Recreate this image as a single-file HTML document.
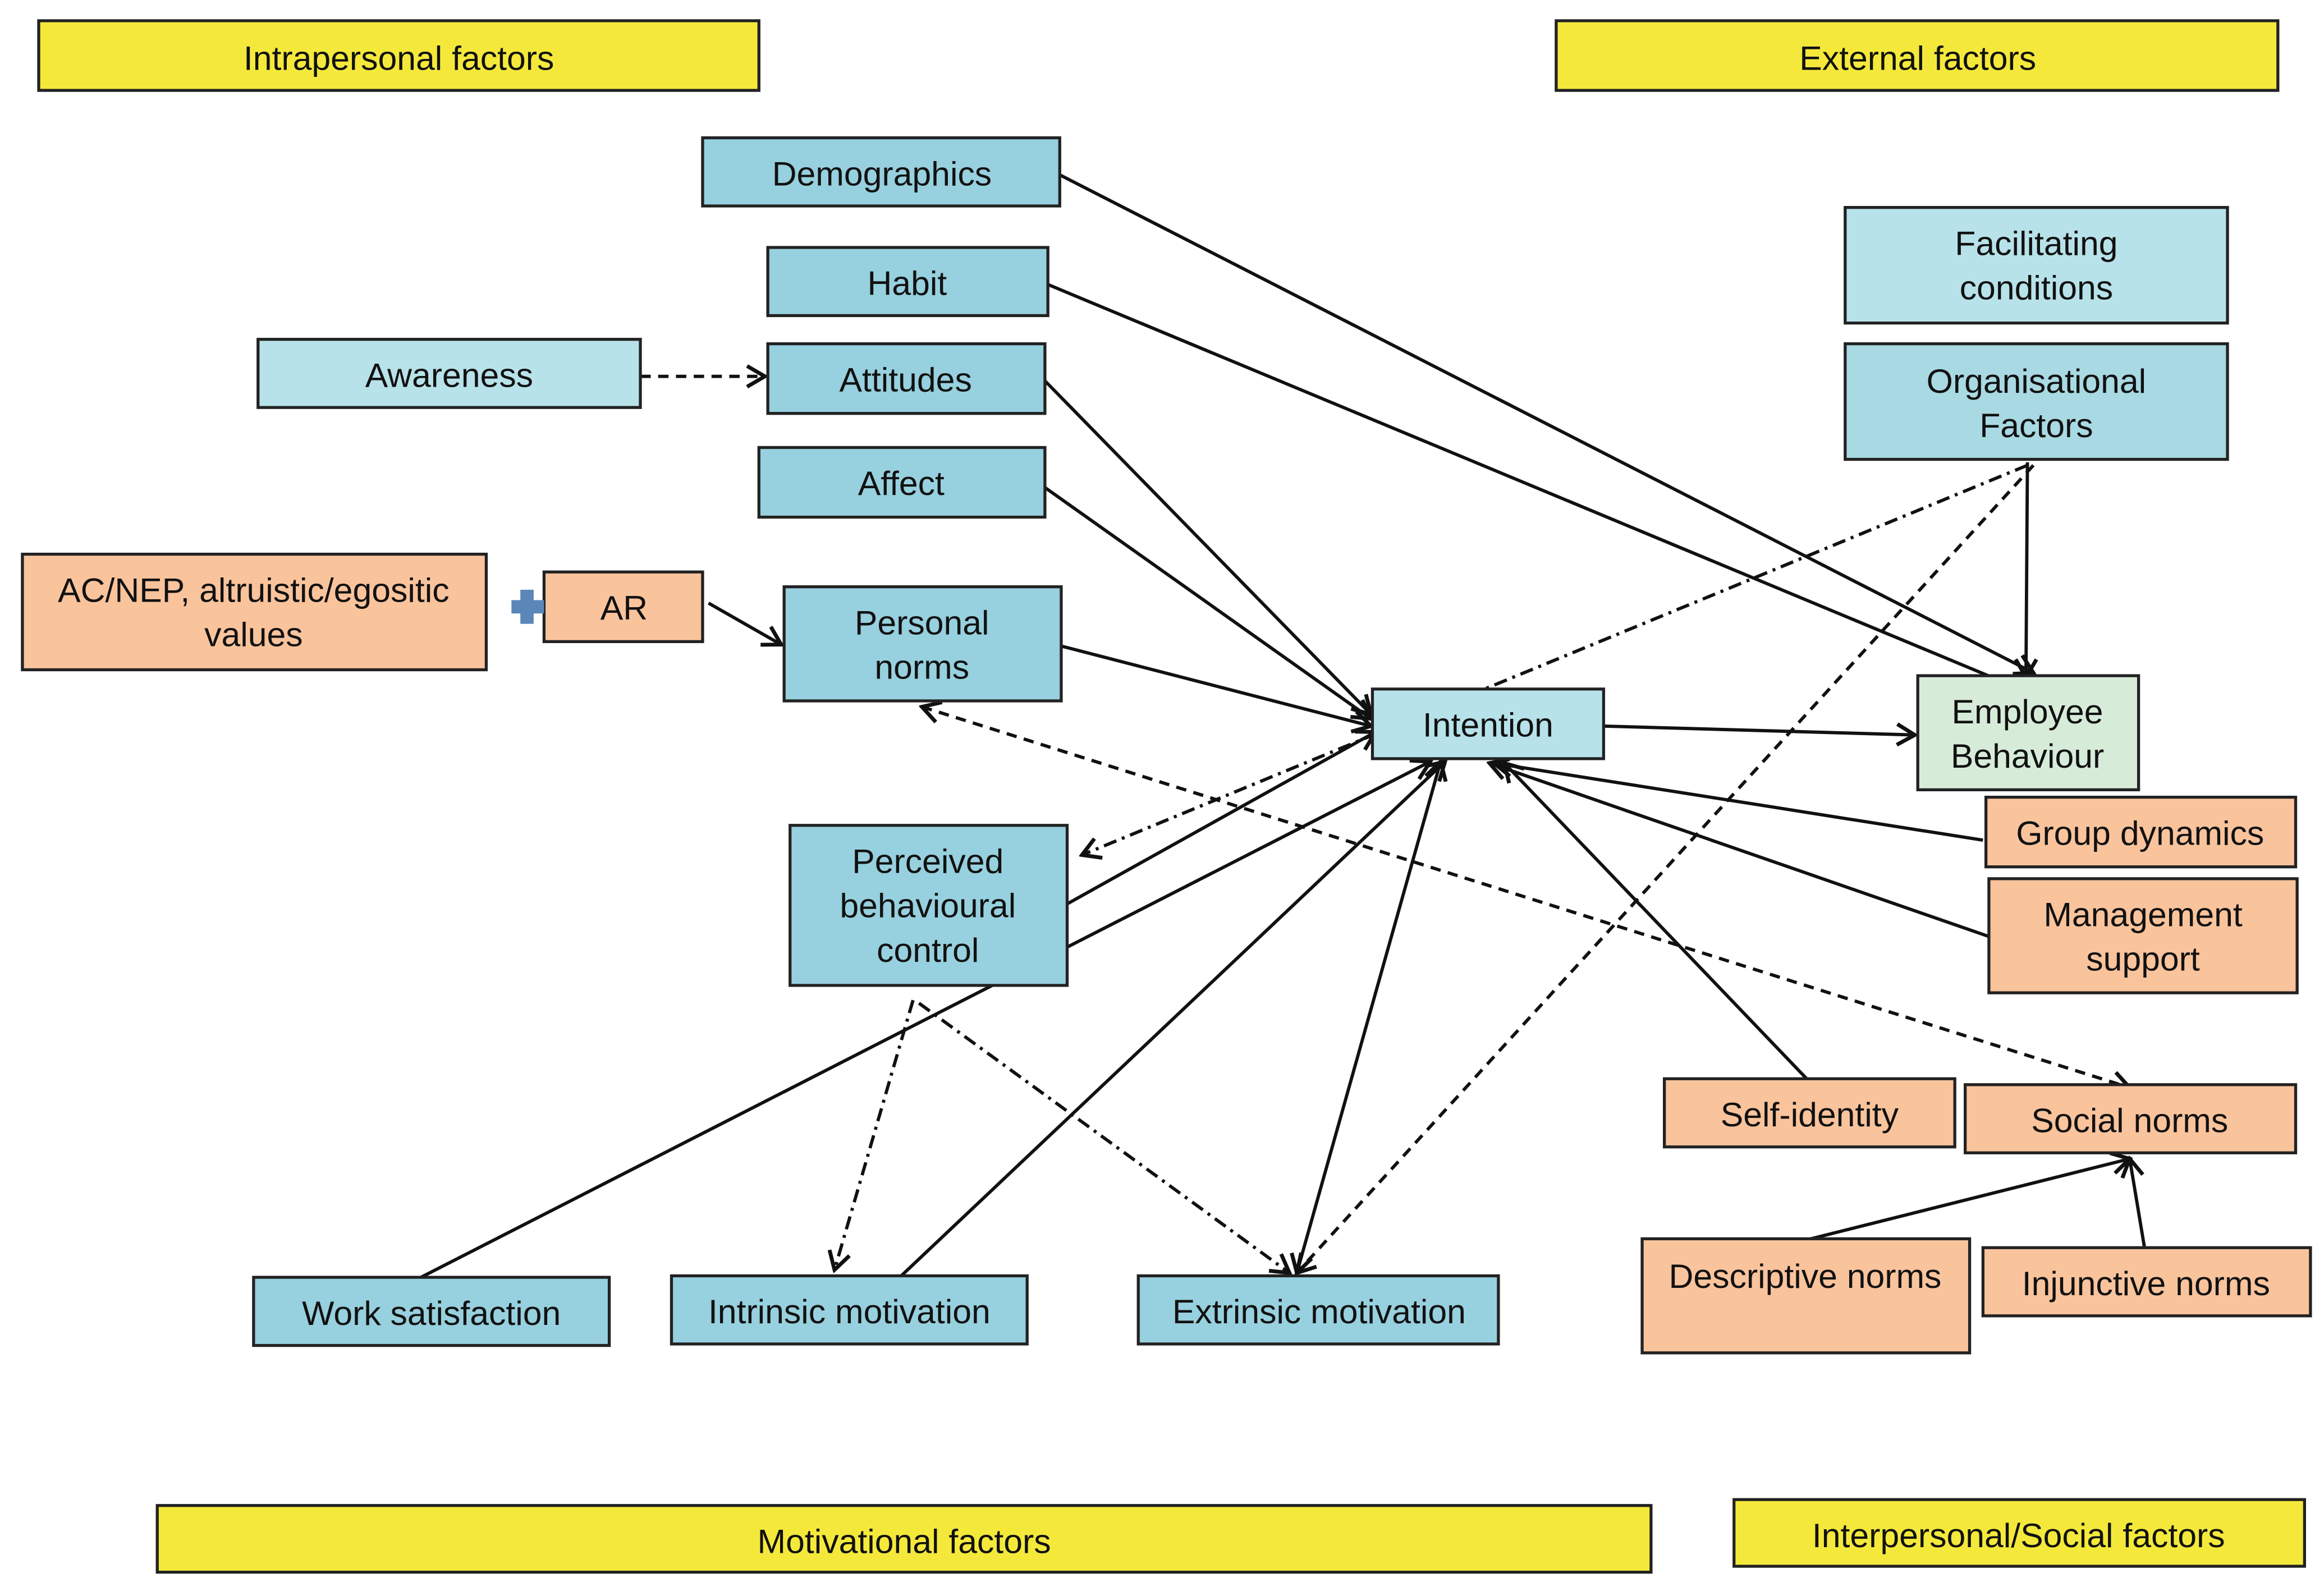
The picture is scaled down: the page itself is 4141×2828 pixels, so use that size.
<!DOCTYPE html>
<html><head><meta charset="utf-8"><style>
html,body{margin:0;padding:0;background:#fff;}
svg{display:block}
text{font-family:"Liberation Sans",sans-serif;font-size:23px;fill:#111;text-anchor:middle;dominant-baseline:middle}
.y{fill:#f4e93b;stroke:#222;stroke-width:2}
.b{fill:#97d0de;stroke:#222;stroke-width:2}
.l{fill:#b8e2e9;stroke:#222;stroke-width:2}
.s{fill:#f9c39c;stroke:#222;stroke-width:2}
.g{fill:#d7ebd9;stroke:#222;stroke-width:2}
.ln{stroke:#111;stroke-width:2.2;fill:none}
.d{stroke-dasharray:7,5}
.dd{stroke-dasharray:9,4,2,4}
</style></head><body>
<svg width="4141" height="2828" viewBox="0 0 1568 1071" xmlns="http://www.w3.org/2000/svg">
<defs>
<marker id="a" viewBox="0 0 20 20" refX="18" refY="10" markerWidth="20" markerHeight="20" orient="auto-start-reverse" markerUnits="userSpaceOnUse">
<polyline points="6,3 18,10 6,17" fill="none" stroke="#111" stroke-width="2.6"/>
</marker>
</defs>
<rect width="1568" height="1071" fill="#fff"/>
<g transform="translate(0,2)">
<line class="ln" x1="715" y1="116" x2="1372" y2="452" marker-end="url(#a)"/>
<line class="ln" x1="707" y1="190" x2="1380" y2="470" marker-end="url(#a)"/>
<line class="ln d" x1="432" y1="252" x2="516" y2="252" marker-end="url(#a)"/>
<line class="ln" x1="705" y1="255" x2="925" y2="480" marker-end="url(#a)"/>
<line class="ln" x1="705" y1="327" x2="925" y2="483" marker-end="url(#a)"/>
<line class="ln" x1="478" y1="405" x2="527" y2="433" marker-end="url(#a)"/>
<line class="ln" x1="716" y1="434" x2="925" y2="488" marker-end="url(#a)"/>
<line class="ln" x1="1368" y1="310" x2="1367" y2="455" marker-end="url(#a)"/>
<line class="ln" x1="1082" y1="488" x2="1292" y2="494" marker-end="url(#a)"/>
<line class="ln" x1="1338" y1="565" x2="1008" y2="513" marker-end="url(#a)"/>
<line class="ln" x1="1342" y1="630" x2="1005" y2="513" marker-end="url(#a)"/>
<line class="ln" x1="1220" y1="727" x2="1015" y2="513" marker-end="url(#a)"/>
<line class="ln" x1="720" y1="608" x2="928" y2="492" marker-end="url(#a)"/>
<line class="ln" x1="280" y1="862" x2="965" y2="512" marker-end="url(#a)"/>
<line class="ln" x1="607" y1="860" x2="975" y2="512" marker-end="url(#a)"/>
<line class="ln" x1="875" y1="857" x2="972" y2="512" marker-start="url(#a)" marker-end="url(#a)"/>
<line class="ln dd" x1="1368" y1="312" x2="730" y2="575" marker-end="url(#a)"/>
<line class="ln d" x1="1372" y1="312" x2="875" y2="857" marker-end="url(#a)"/>
<line class="ln d" x1="622" y1="475" x2="1437" y2="732" marker-start="url(#a)" marker-end="url(#a)"/>
<line class="ln dd" x1="616" y1="673" x2="563" y2="855" marker-end="url(#a)"/>
<line class="ln dd" x1="620" y1="675" x2="870" y2="857" marker-end="url(#a)"/>
<line class="ln" x1="1218" y1="835" x2="1437" y2="780" marker-end="url(#a)"/>
<line class="ln" x1="1447" y1="840" x2="1437" y2="780" marker-end="url(#a)"/>
</g>
<rect class="y" x="26" y="14" width="486" height="47"/><text x="269" y="41">Intrapersonal factors</text>
<rect class="y" x="1050" y="14" width="487" height="47"/><text x="1294" y="41">External factors</text>
<rect class="b" x="474" y="93" width="241" height="46"/><text x="595" y="119">Demographics</text>
<rect class="b" x="518" y="167" width="189" height="46"/><text x="612" y="193">Habit</text>
<rect class="l" x="174" y="229" width="258" height="46"/><text x="303" y="255">Awareness</text>
<rect class="b" x="518" y="232" width="187" height="47"/><text x="611" y="258">Attitudes</text>
<rect class="b" x="512" y="302" width="193" height="47"/><text x="608" y="328">Affect</text>
<rect class="s" x="15" y="374" width="313" height="78"/><text x="171" y="400">AC/NEP, altruistic/egositic</text><text x="171" y="430">values</text>
<rect class="s" x="367" y="386" width="107" height="47"/><text x="421" y="412">AR</text>
<rect x="345" y="405" width="22" height="9" fill="#5b87b8"/><rect x="351" y="398" width="9" height="23" fill="#5b87b8"/>
<rect class="b" x="529" y="396" width="187" height="77"/><text x="622" y="422">Personal</text><text x="622" y="452">norms</text>
<rect class="l" x="1245" y="140" width="258" height="78"/><text x="1374" y="166">Facilitating</text><text x="1374" y="196">conditions</text>
<rect class="l" x="1245" y="232" width="258" height="78" style="fill:#a9d9e3"/><text x="1374" y="259">Organisational</text><text x="1374" y="289">Factors</text>
<rect class="l" x="926" y="465" width="156" height="47"/><text x="1004" y="491">Intention</text>
<rect class="g" x="1294" y="456" width="149" height="77"/><text x="1368" y="482">Employee</text><text x="1368" y="512">Behaviour</text>
<rect class="s" x="1340" y="538" width="209" height="47"/><text x="1444" y="564">Group dynamics</text>
<rect class="s" x="1342" y="593" width="208" height="77"/><text x="1446" y="619">Management</text><text x="1446" y="649">support</text>
<rect class="b" x="533" y="557" width="187" height="108"/><text x="626" y="583">Perceived</text><text x="626" y="613">behavioural</text><text x="626" y="643">control</text>
<rect class="s" x="1123" y="728" width="196" height="46"/><text x="1221" y="754">Self-identity</text>
<rect class="s" x="1326" y="732" width="223" height="46"/><text x="1437" y="758">Social norms</text>
<rect class="s" x="1108" y="836" width="221" height="77"/><text x="1218" y="863">Descriptive norms</text>
<rect class="s" x="1338" y="842" width="221" height="46"/><text x="1448" y="868">Injunctive norms</text>
<rect class="b" x="171" y="862" width="240" height="46"/><text x="291" y="888">Work satisfaction</text>
<rect class="b" x="453" y="861" width="240" height="46"/><text x="573" y="887">Intrinsic motivation</text>
<rect class="b" x="768" y="861" width="243" height="46"/><text x="890" y="887">Extrinsic motivation</text>
<rect class="y" x="106" y="1016" width="1008" height="45"/><text x="610" y="1042">Motivational factors</text>
<rect class="y" x="1170" y="1012" width="385" height="45"/><text x="1362" y="1038">Interpersonal/Social factors</text>
</svg>
</body></html>
